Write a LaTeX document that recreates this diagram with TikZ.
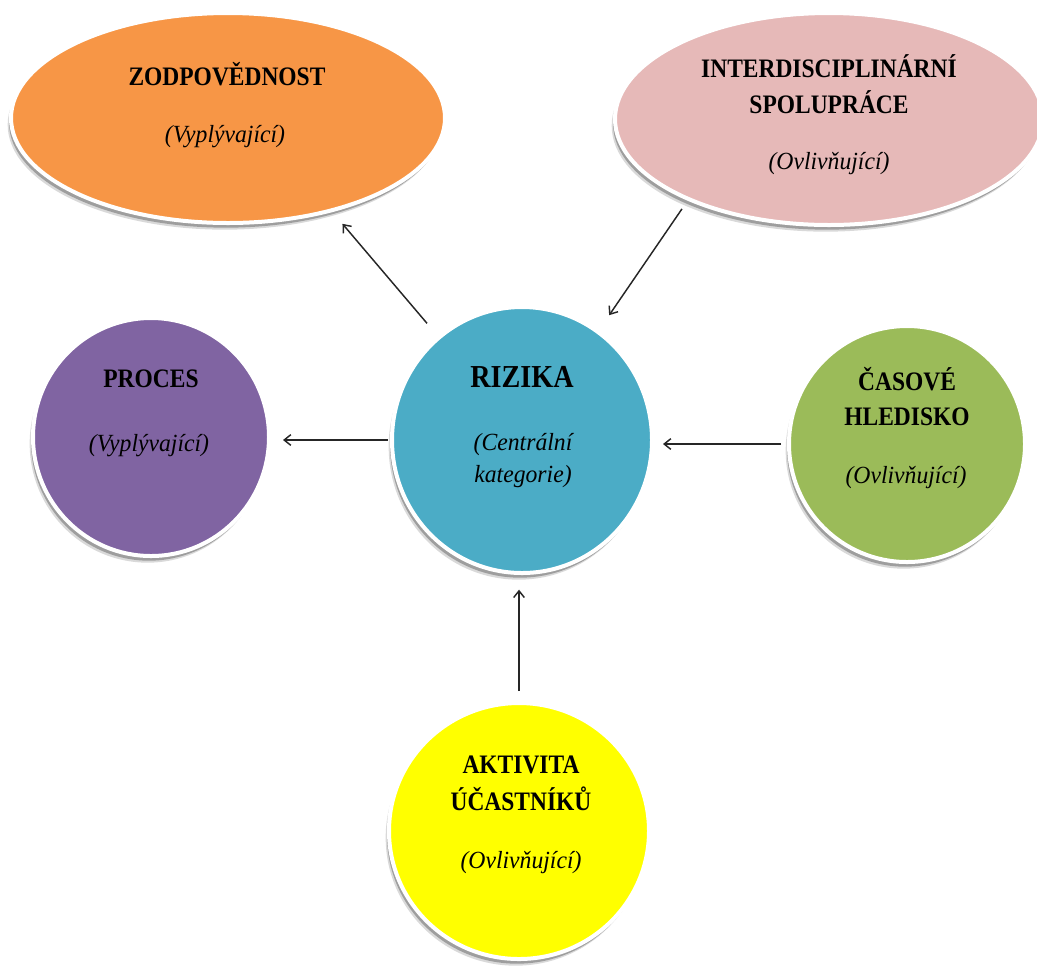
\documentclass[tikz,border=0pt]{standalone}
\usepackage{fontspec}
\setmainfont{Liberation Serif}
\newfontfamily\narrowserif{Liberation Serif}[FakeStretch=0.88]
\newfontfamily\italserif{Liberation Serif}[FakeStretch=0.96]
\usetikzlibrary{shapes.geometric,shadows,arrows.meta}
\definecolor{cOrange}{HTML}{F79646}
\definecolor{cPink}{HTML}{E6B9B8}
\definecolor{cTeal}{HTML}{4BACC6}
\definecolor{cPurple}{HTML}{8064A2}
\definecolor{cGreen}{HTML}{9BBB59}
\definecolor{cYellow}{HTML}{FFFF00}
\begin{document}
\begin{tikzpicture}[x=0.75pt,y=-0.75pt,
  blob/.style={ellipse, draw=white, line width=3pt, inner sep=0pt,
    general shadow={fill=black!15, shadow xshift=-2.5pt, shadow yshift=-5pt},
    general shadow={fill=black!38, shadow xshift=-1.5pt, shadow yshift=-3.5pt}},
  head/.style={font=\narrowserif\fontsize{20}{24}\selectfont\bfseries, anchor=base, inner sep=0pt},
  bighead/.style={font=\narrowserif\fontsize{24}{28}\selectfont\bfseries, anchor=base, inner sep=0pt},
  sub/.style={font=\italserif\fontsize{18.5}{22}\selectfont\itshape, anchor=base, inner sep=0pt},
  link/.style={draw=black!85, line width=1.1pt, -{Straight Barb[length=5pt,width=8pt]}}]
\useasboundingbox (0,0) rectangle (1037,965);

% category shapes
\node[blob, fill=cOrange, minimum width=325.5pt, minimum height=157.5pt] (zod) at (228,118) {};
\node[blob, fill=cPink, minimum width=321pt, minimum height=159pt] (int) at (829,119) {};
\node[blob, fill=cTeal, minimum width=195pt, minimum height=199.5pt] (riz) at (522,440) {};
\node[blob, fill=cPurple, minimum width=177pt, minimum height=178.5pt] (proc) at (151,437) {};
\node[blob, fill=cGreen, minimum width=177pt, minimum height=177pt] (cas) at (907,444) {};
\node[blob, fill=cYellow, minimum width=195pt, minimum height=192pt] (akt) at (519,831) {};

% labels
\node[head] (zodT) at (227,85) {ZODPOVĚDNOST};
\node[sub] (zodS) at (225,142) {(Vyplývající)};
\node[head] (intA) at (829,77) {INTERDISCIPLINÁRNÍ};
\node[head] (intB) at (829,113) {SPOLUPRÁCE};
\node[sub] (intS) at (829,169) {(Ovlivňující)};
\node[bighead] (rizT) at (522,387) {RIZIKA};
\node[sub] (rizA) at (523,450) {(Centrální};
\node[sub] (rizB) at (523,482) {kategorie)};
\node[head] (procT) at (151,387) {PROCES};
\node[sub] (procS) at (149,451) {(Vyplývající)};
\node[head] (casA) at (907,390) {ČASOVÉ};
\node[head] (casB) at (907,425) {HLEDISKO};
\node[sub] (casS) at (906,483) {(Ovlivňující)};
\node[head] (aktA) at (521,773) {AKTIVITA};
\node[head] (aktB) at (521,810) {ÚČASTNÍKŮ};
\node[sub] (aktS) at (521,868) {(Ovlivňující)};

% relations
\draw[link, shorten <=12.5pt, shorten >=11.6pt] (riz.129) -- (zod.-42.5);
\draw[link, shorten <=7.5pt, shorten >=13.7pt] (int.210.5) -- (riz.55.4);
\draw[link, shorten <=1.5pt, shorten >=9pt] (riz.west) -- (proc.east |- riz.west);
\draw[link, shorten <=4.5pt, shorten >=6.75pt] (cas.west) -- (riz.east |- cas.west);
\draw[link, shorten <=7.5pt, shorten >=11pt] (akt.north) -- (akt.north |- riz.south);
\end{tikzpicture}
\end{document}
